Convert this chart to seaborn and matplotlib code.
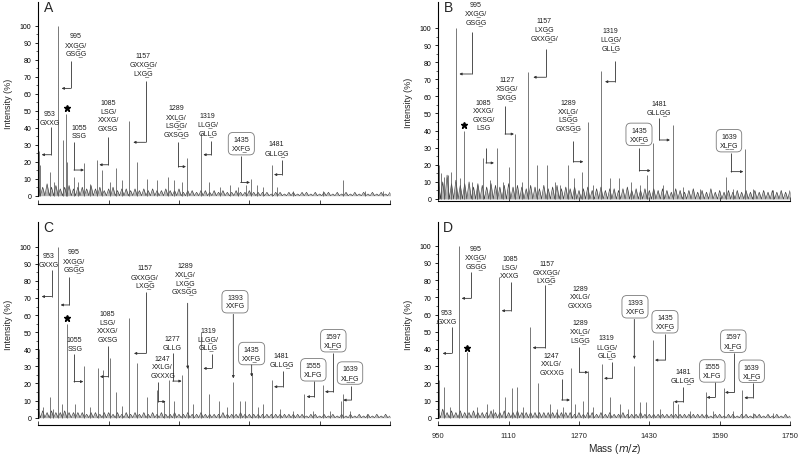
import matplotlib
matplotlib.use("Agg")
import matplotlib.pyplot as plt
import numpy as np
import pandas as pd
import seaborn as sns

sns.set_theme(style="ticks")
plt.rcParams["font.family"] = ["Liberation Sans", "DejaVu Sans"]

# ---------------- data: peak lists (m/z, intensity %) ----------------
MZ_A = [951.5, 953.8, 976.5, 985.6, 995.5, 1006.9, 1013, 1015, 1031, 1041, 1054, 1067.5, 1084, 1096,
        1113, 1126.7, 1139.6, 1157, 1175, 1196.4, 1219, 1245.7, 1258.6, 1276, 1289, 1319.3, 1339,
        1363, 1386, 1405, 1422, 1433, 1446.7, 1462, 1480.8, 1492, 1530, 1598, 1644, 1693, 1735]
INT_A = [26, 18, 14, 8, 100, 33, 48, 20, 11, 8, 19, 7, 21, 15,
         8, 16, 9, 44, 20, 10, 9, 11, 9, 8, 22, 37, 8,
         5, 6, 5, 6, 10, 6, 5, 18, 5, 3, 3, 9, 3, 3]

MZ_B = [951.5, 956, 963.6, 972.7, 980, 990, 999, 1009, 1026, 1037, 1051, 1067.5, 1082.7, 1098,
        1111.5, 1124.4, 1139.6, 1154.7, 1173.7, 1196.4, 1215.4, 1226.8, 1245.7, 1258.6, 1277.6,
        1289.7, 1302.6, 1320, 1340.5, 1361.7, 1388.3, 1408.8, 1424, 1439, 1462, 1484.6, 1507,
        1545, 1603.6, 1621, 1647.6, 1666.6, 1712]
INT_B = [20, 15, 13, 14, 16, 100, 12, 40, 10, 8, 24, 11, 30, 10,
         19, 38, 10, 74, 20, 20, 10, 8, 20, 12, 16,
         45, 8, 75, 12, 12, 10, 8, 14, 33, 8, 43, 7,
         6, 13, 6, 29, 6, 5]

MZ_C = [951.5, 961, 976.5, 984, 995.5, 1005, 1014.5, 1033, 1054.6, 1067.5, 1085, 1098, 1113,
        1126.7, 1139.6, 1157, 1175, 1196.4, 1219, 1236, 1248, 1258.6, 1277.6, 1289.7, 1302.6,
        1320, 1339, 1361.7, 1378.4, 1393.6, 1408.8, 1420, 1435.3, 1450.5, 1462, 1480.8, 1500,
        1530, 1555, 1575.6, 1596.8, 1613.5, 1637.8, 1642.3, 1659, 1697]
INT_C = [40, 6, 12, 5, 100, 8, 55, 8, 30, 6, 29, 28, 35,
         15, 7, 58, 32, 12, 16, 10, 22, 10, 25, 31, 8,
         50, 14, 10, 6, 21, 10, 10, 26, 6, 8, 22, 5,
         4, 14, 4, 19, 4, 10, 14, 4, 2]

MZ_D = [951.5, 963.6, 976.5, 997.8, 1014.5, 1037, 1060, 1075, 1088, 1101.7, 1118.3, 1129.7,
        1143, 1158.5, 1177.5, 1204, 1219, 1234, 1251, 1261, 1280, 1291, 1302.6, 1321.6, 1340.5,
        1363, 1382, 1395.9, 1408.8, 1421.7, 1437.6, 1454, 1484.6, 1496, 1522.5, 1558, 1575.6,
        1600, 1621, 1641.6, 1666.6, 1712]
INT_D = [22, 18, 6, 100, 38, 6, 8, 5, 82, 12, 17, 18,
         6, 53, 20, 8, 5, 6, 29, 8, 10, 27, 6, 31, 12,
         8, 5, 30, 9, 9, 45, 5, 10, 8, 4, 15, 4,
         17, 4, 16, 3, 3]

# baseline noise heights read every 10 m/z from 950 to 1750
NOISE_MZ = list(range(950, 1751, 10))
NOISE_A = [6, 5, 7, 5, 6, 4, 5, 6, 4, 5, 5, 4, 6, 4, 5, 3, 4, 5, 3, 4,
           4, 3, 4, 3, 4, 3, 4, 3, 3, 4, 3, 3, 4, 2, 3, 3, 2, 3, 3, 2,
           3, 2, 3, 2, 2, 3, 2, 2, 3, 2, 2, 2, 2, 1, 2, 2, 1, 2, 2, 1,
           2, 2, 1, 2, 1, 2, 2, 1, 2, 1, 2, 1, 2, 1, 2, 1, 2, 1, 2, 1, 2]
NOISE_B = [12, 10, 14, 9, 11, 8, 9, 10, 7, 9, 8, 7, 9, 8, 7, 8, 9, 7, 8, 7,
           6, 8, 7, 6, 8, 6, 7, 8, 6, 7, 6, 7, 5, 6, 7, 5, 6, 7, 5, 6,
           6, 5, 6, 7, 5, 6, 5, 6, 5, 6, 5, 6, 5, 4, 6, 5, 4, 5, 6, 4,
           5, 4, 6, 4, 5, 4, 5, 4, 5, 4, 5, 4, 5, 4, 5, 4, 5, 4, 5, 4, 5]
NOISE_C = [5, 4, 3, 4, 3, 3, 4, 3, 3, 3, 3, 2, 3, 3, 2, 3, 3, 2, 3, 2,
           3, 2, 3, 2, 3, 2, 3, 2, 3, 2, 2, 3, 2, 2, 3, 2, 2, 3, 2, 2,
           2, 2, 3, 2, 2, 2, 3, 2, 2, 2, 2, 2, 2, 2, 2, 2, 2, 2, 2, 2,
           2, 1, 2, 2, 1, 2, 1, 2, 1, 2, 1, 2, 1, 2, 1, 2, 1, 2, 1, 2, 1]
NOISE_D = [4, 5, 3, 4, 3, 4, 3, 3, 4, 3, 3, 3, 4, 3, 3, 4, 3, 3, 4, 3,
           3, 3, 3, 3, 3, 3, 3, 3, 3, 3, 3, 2, 3, 2, 3, 3, 2, 3, 2, 3,
           2, 2, 3, 2, 2, 2, 3, 2, 2, 2, 2, 2, 2, 2, 2, 2, 2, 2, 2, 2,
           2, 2, 1, 2, 2, 1, 2, 2, 1, 2, 2, 1, 2, 2, 1, 2, 1, 2, 1, 2, 1]

# starred peak marker position (m/z, intensity)
STAR_A = (1014.5, 51.5)
STAR_B = (1009.1, 43.5)
STAR_C = (1014.5, 58.5)
STAR_D = (1014.5, 40.5)

X_TICKS = [950, 1110, 1270, 1430, 1590, 1750]
Y_TICKS = list(range(0, 101, 10))


def u(s):
    """underline each character"""
    return "".join(c + "\u0332" for c in s)


# ---------------- annotation texts ----------------
LABELS_A = ["953\nGXXG", f"995\nXX{u('G')}G/\nGS{u('G')}G", "1055\nSSG", "1085\nLSG/\nXXXG/\nGXSG",
            f"1157\nGXX{u('G')}G/\nLX{u('G')}G", f"1289\nXX{u('L')}G/\nLS{u('G')}G/\nGXS{u('G')}G",
            f"1319\nLL{u('G')}G/\nGL{u('L')}G", f"1435\nXX{u('F')}G", f"1481\nGLL{u('G')}G"]
LABELS_B = [f"995\nXX{u('G')}G/\nGS{u('G')}G", "1085\nXXXG/\nGXSG/\nLSG", f"1127\nXS{u('G')}G/\nSX{u('G')}G",
            f"1157\nLX{u('G')}G\nGXX{u('G')}G/", f"1289\nXX{u('L')}G/\nLS{u('G')}G\nGXS{u('G')}G",
            f"1319\nLL{u('G')}G/\nGL{u('L')}G", f"1435\nXX{u('F')}G", f"1481\nGLL{u('G')}G",
            f"1639\nX{u('LF')}G"]
LABELS_C = ["953\nGXXG", f"995\nXX{u('G')}G/\nGS{u('G')}G", "1055\nSSG", "1085\nLSG/\nXXXG/\nGXSG",
            f"1157\nGXX{u('G')}G/\nLX{u('G')}G", "1247\nXXLG/\nGXXXG", "1277\nGLLG",
            f"1289\nXX{u('L')}G/\nLX{u('G')}G\nGXS{u('G')}G", f"1319\nLL{u('G')}G/\nGL{u('L')}G",
            "1393\nXXFG", f"1435\nXX{u('F')}G", f"1481\nGLL{u('G')}G", "1555\nXLFG",
            f"1597\nX{u('LF')}G", f"1639\nX{u('LF')}G"]
LABELS_D = ["953\nGXXG", f"995\nXX{u('G')}G/\nGS{u('G')}G", "1085\nLSG/\nXXXG",
            f"1157\nGXX{u('G')}G/\nLX{u('G')}G", "1289\nXXLG/\nGXXXG", f"1289\nXX{u('L')}G/\nLS{u('G')}G",
            "1247\nXXLG/\nGXXXG", f"1319\nLL{u('G')}G/\nGL{u('L')}G", "1393\nXXFG",
            f"1435\nXX{u('F')}G", f"1481\nGLL{u('G')}G", "1555\nXLFG", f"1597\nX{u('L')}FG",
            f"1639\nX{u('LF')}G"]

# ---------------- annotation layout ----------------
# (text x, text y-centre, leader x, leader top, leader corner y, arrow tip x or None, boxed)
LAY_A = [(975, 45.8, 978.8, 40.2, 24.1, 957.6, False),
         (1035.7, 89, 1023.6, 79.4, 63.1, 1003, False),
         (1042.5, 37.8, 1031.1, 31.8, 15.1, 1053.9, False),
         (1109, 47.3, 1109.2, 34.3, 18.2, 1088.8, False),
         (1188.9, 77.5, 1194.2, 67.6, 31.4, 1166, False),
         (1264.7, 44.2, 1268.5, 31.4, 17.1, 1285.9, False),
         (1335.2, 42.2, 1342.8, 32.4, 24.1, 1325.4, False),
         (1411.8, 30.6, 1410.3, 23.5, 7.8, 1431.5, True),
         (1492.2, 28, 1503.6, 21.2, 12.4, 1486.1, False)]
LAY_B = [(1035.7, 108.7, 1025.8, 97.5, 73.1, 997.8, False),
         (1052.4, 49.2, 1058.4, 29.6, 21.1, 1076.6, False),
         (1105.5, 64.8, 1101.7, 54.6, 38, 1122.1, False),
         (1191.1, 99.3, 1194.2, 87.7, 71.2, 1166.1, False),
         (1245.7, 49.2, 1257.1, 34.1, 21.8, 1279.9, False),
         (1342, 93.5, 1351.9, 80.9, 68.6, 1329.2, False),
         (1406.5, 37.8, 1407.2, 29.6, 16.6, 1433, True),
         (1452.8, 53.6, 1452.8, 47.4, 34.5, 1477, False),
         (1611.2, 34.1, 1615.8, 26.9, 16, 1643.8, True)]
LAY_C = [(972.7, 92.2, 980.3, 86.4, 70.8, 957.6, False),
         (1031.1, 92, 1020.5, 82.5, 65.9, 1000.8, False),
         (1032.7, 43, 1031.1, 37, 21.1, 1052.4, False),
         (1107, 53.4, 1109.2, 42.1, 24, 1090.3, False),
         (1192.7, 82.6, 1194.9, 73.7, 37.6, 1167.6, False),
         (1232.8, 29.8, 1223, 21.1, 9.4, 1239.7, False),
         (1254.1, 43.8, 1255.6, 37.6, 21.4, 1276.1, False),
         (1283.6, 81.5, 1289.7, 66.9, 28.5, None, False),
         (1336.7, 46.2, 1344.3, 37, 28.8, 1325.4, False),
         (1397.4, 67.8, 1393.6, 60.4, 23, None, True),
         (1435.3, 37.5, 1435.3, 30.8, 24, None, True),
         (1503.6, 33.9, 1505.8, 27.3, 18.1, 1486.1, False),
         (1575.6, 28, 1577.9, 21.4, 12.3, 1560.4, True),
         (1621.1, 45, 1621.1, 38, 15.2, 1602.1, True),
         (1659, 26.1, 1660.5, 18.7, 10.3, 1643.8, True)]
LAY_D = [(969, 58.7, 980.3, 52.9, 37.4, 959.9, False),
         (1035.7, 93.3, 1024.3, 84.9, 69.4, 1003.1, False),
         (1113, 87.6, 1114.6, 78.7, 62.2, 1094.1, False),
         (1196.4, 85, 1192.7, 77.1, 40.7, 1164.6, False),
         (1272.3, 70.3, None, None, None, None, False),
         (1272.3, 50.3, 1270.8, 41.3, 26.4, 1291.2, False),
         (1207.8, 31.4, 1230.6, 22.5, 10.3, 1249.5, False),
         (1332.9, 41.5, 1345.8, 32.6, 22.9, 1326.9, False),
         (1397.4, 64.5, 1395.9, 57.2, 34.1, None, True),
         (1465.6, 55.8, 1465.6, 48.4, 33.5, 1442.9, True),
         (1507.4, 24.5, 1507.4, 18, 9.3, 1486.1, False),
         (1573.3, 27.2, 1579.4, 20.9, 11.8, 1560.4, True),
         (1621.1, 44.5, 1623.4, 37.8, 14.7, 1602.1, True),
         (1662.8, 27, 1665.1, 20, 11.6, 1646.1, True)]

# axes rectangles in pixels: (left, right, top, bottom) and y-range
W, H = 800, 456
PANELS = [
    ("A", MZ_A, INT_A, NOISE_A, STAR_A, LABELS_A, LAY_A, (38.3, 390, 3, 205), (-4.88, 113.9), False),
    ("B", MZ_B, INT_B, NOISE_B, STAR_B, LABELS_B, LAY_B, (438.3, 790, 3, 202), (-1.17, 115.2), False),
    ("C", MZ_C, INT_C, NOISE_C, STAR_C, LABELS_C, LAY_C, (38.3, 390, 223, 426), (-4.27, 114.4), False),
    ("D", MZ_D, INT_D, NOISE_D, STAR_D, LABELS_D, LAY_D, (438.3, 790, 223, 426), (-4.24, 113.8), True),
]

LINE = "#3a3a3a"
fig = plt.figure(figsize=(8, 4.56), dpi=100)

for letter, mz, inten, noise, star, labels, lays, (l, r, t, b), ylim, xlab in PANELS:
    ax = fig.add_axes([l / W, 1 - b / H, (r - l) / W, (b - t) / H])
    # baseline noise as a jagged trace
    nx, ny = [], []
    for m, v in zip(NOISE_MZ, noise):
        nx += [m, m + 5]
        ny += [v, 0]
    df = pd.DataFrame({"mz": nx, "y": ny})
    ax.fill_between(df["mz"], 0, df["y"], color="#5a5a5a", alpha=0.45, lw=0)
    sns.lineplot(data=df, x="mz", y="y", ax=ax, estimator=None, sort=False,
                 color=LINE, lw=0.45)
    ax.vlines(mz, 0, inten, color="#555555", lw=0.55)
    ax.plot([star[0]], [star[1]], marker="*", ms=4.6, color="black", ls="none")

    for text, (tx, ty, vx, ytop, ycor, tip, boxed) in zip(labels, lays):
        kw = dict(ha="center", va="center", fontsize=5, linespacing=1.3, color="#1e1e1e")
        if boxed:
            kw["bbox"] = dict(boxstyle="round,pad=0.5,rounding_size=0.7", fc="white",
                              ec="#7a7a7a", lw=0.6)
        ax.text(tx, ty, text, **kw)
        if vx is None:
            continue
        ap = dict(arrowstyle="-|>", lw=0.6, color="#333333", mutation_scale=3.5,
                  shrinkA=0, shrinkB=0)
        if tip is None:
            ax.annotate("", xy=(vx, ycor), xytext=(vx, ytop), arrowprops=ap)
        else:
            ax.plot([vx, vx], [ytop, ycor], color="#333333", lw=0.6, solid_capstyle="butt")
            ax.annotate("", xy=(tip, ycor), xytext=(vx, ycor), arrowprops=ap)

    ax.set_xlim(950, 1750)
    ax.set_ylim(*ylim)
    ax.set_xticks(X_TICKS)
    ax.set_yticks(Y_TICKS)
    ax.set_yticks(list(range(5, 100, 10)), minor=True)
    ax.spines["top"].set_visible(False)
    ax.spines["right"].set_visible(False)
    ax.spines["left"].set_bounds(0, ylim[1])
    ax.spines["bottom"].set_bounds(950, 1750)
    for s in ("left", "bottom"):
        ax.spines[s].set_linewidth(0.8)
        ax.spines[s].set_color("black")
    ax.tick_params(axis="y", which="major", length=2, width=0.6, labelsize=5, pad=3, colors="black")
    ax.tick_params(axis="y", which="minor", length=1.2, width=0.5)
    ax.tick_params(axis="x", which="major", direction="in", length=3, width=0.6,
                   labelsize=5.5, pad=5)
    if not xlab:
        ax.tick_params(axis="x", labelbottom=False)
        ax.set_xlabel("")
    else:
        ax.set_xlabel("Mass ($\\it{m/z}$)", fontsize=7.2, labelpad=1.5)
    ax.set_ylabel("Intensity (%)", fontsize=6.5)
    ax.yaxis.set_label_coords(-0.072, 0.5)
    ax.text(0.028, 0.975, letter, transform=ax.transAxes, fontsize=10, ha="center", va="center")

fig.savefig("out.png", dpi=100)
